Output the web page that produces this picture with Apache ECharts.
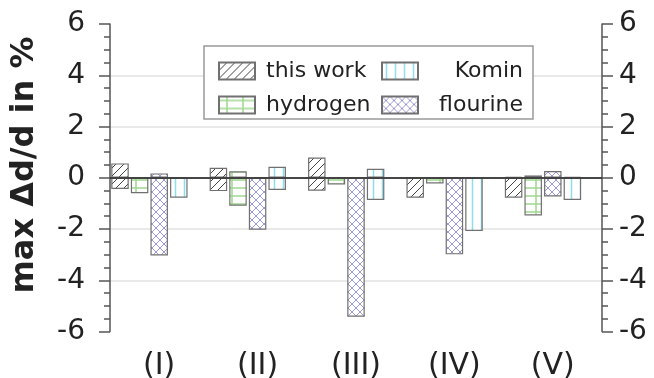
<!DOCTYPE html>
<html>
<head>
<meta charset="utf-8">
<script src="https://cdn.jsdelivr.net/npm/echarts@6/dist/echarts.min.js"></script>
<style>
  html, body { margin: 0; padding: 0; background: #fff; }
  #chart { width: 654px; height: 378px; }
</style>
</head>
<body>
<div id="chart"></div>
<script>
// categories and values (max positive / max negative deviation, %)
var categories = ['(I)', '(II)', '(III)', '(IV)', '(V)'];
var thisWorkPos = [0.56, 0.39, 0.79, 0, 0.04];
var thisWorkNeg = [-0.44, -0.52, -0.51, -0.78, -0.78];
var hydrogenPos = [0, 0.25, 0, 0, 0.09];
var hydrogenNeg = [-0.6, -1.09, -0.26, -0.22, -1.47];
var flourinePos = [0.17, 0, 0, 0, 0.26];
var flourineNeg = [-3.03, -2.03, -5.42, -2.99, -0.73];
var kominPos = [0, 0.43, 0.35, 0, 0.04];
var kominNeg = [-0.78, -0.48, -0.87, -2.08, -0.87];
var emptySlot = [null, null, null, null, null];

var FONT = 'DejaVu Sans';
var NONE = 'rgba(0,0,0,0)';
var GRID = '#e2e2e2';

// hatch patterns
function makePattern(w, h, draw) {
    var c = document.createElement('canvas');
    c.width = w;
    c.height = h;
    var ctx = c.getContext('2d');
    ctx.fillStyle = '#fff';
    ctx.fillRect(0, 0, w, h);
    draw(ctx, w, h);
    return { image: c, repeat: 'repeat' };
}

var diagPattern = makePattern(8, 8, function (ctx, w, h) {
    ctx.strokeStyle = '#444';
    ctx.lineWidth = 1;
    ctx.beginPath();
    ctx.moveTo(-1, h + 1); ctx.lineTo(w + 1, -1);
    ctx.moveTo(-1, 1); ctx.lineTo(1, -1);
    ctx.moveTo(w - 1, h + 1); ctx.lineTo(w + 1, h - 1);
    ctx.stroke();
});
var gridPattern = makePattern(16, 8, function (ctx, w, h) {
    ctx.strokeStyle = '#9fd88f';
    ctx.lineWidth = 1.5;
    ctx.beginPath();
    ctx.moveTo(8, 0); ctx.lineTo(8, h);
    ctx.moveTo(0, 4); ctx.lineTo(w, 4);
    ctx.stroke();
});
var crossPattern = makePattern(8, 8, function (ctx, w, h) {
    ctx.strokeStyle = '#9a9ad8';
    ctx.lineWidth = 1;
    ctx.beginPath();
    ctx.moveTo(0, 0); ctx.lineTo(w, h);
    ctx.moveTo(0, h); ctx.lineTo(w, 0);
    ctx.stroke();
});
var vertPattern = makePattern(9, 8, function (ctx, w, h) {
    ctx.strokeStyle = '#8fdcec';
    ctx.lineWidth = 1.5;
    ctx.beginPath();
    ctx.moveTo(4.5, 0); ctx.lineTo(4.5, h);
    ctx.stroke();
});

function barSeries(name, stack, data, fill) {
    return {
        name: name,
        type: 'bar',
        stack: stack,
        data: data,
        barWidth: 17.5,
        barGap: '12%',
        itemStyle: { color: fill, borderColor: '#707070', borderWidth: 1.2 },
        emphasis: { disabled: true }
    };
}

var yAxisBase = {
    type: 'value',
    min: -6,
    max: 6,
    interval: 2,
    axisLine: { show: true, lineStyle: { color: '#555', width: 1.5 } },
    axisTick: { show: true, length: 11, lineStyle: { color: '#555', width: 1.5 } },
    minorTick: { show: true, splitNumber: 4, length: 6, lineStyle: { color: '#555', width: 1.5 } },
    axisLabel: { fontFamily: FONT, fontSize: 28, color: '#222' }
};

var chart = echarts.init(document.getElementById('chart'));
chart.setOption({
    animation: false,
    grid: { left: 110, right: 52, top: 24, bottom: 46.5, outerBoundsMode: 'none', containLabel: false },
    xAxis: {
        type: 'category',
        data: categories,
        axisLine: { lineStyle: { color: '#555', width: 1.5 } },
        axisTick: { length: 12, lineStyle: { color: '#555', width: 1.5 } },
        axisLabel: { fontFamily: FONT, fontSize: 30, color: '#222', margin: 20 }
    },
    yAxis: [
        Object.assign({}, yAxisBase, {
            position: 'left',
            axisLabel: Object.assign({}, yAxisBase.axisLabel, { margin: 25 }),
            splitLine: {
                show: true,
                // lines at -6..6: hide the ends and the zero line
                lineStyle: { color: [NONE, GRID, GRID, NONE, GRID, GRID, NONE], width: 1.5 }
            }
        }),
        Object.assign({}, yAxisBase, {
            position: 'right',
            axisLabel: Object.assign({}, yAxisBase.axisLabel, { margin: 17 }),
            splitLine: { show: false }
        })
    ],
    legend: [
        {
            data: ['this work', 'hydrogen'],
            orient: 'vertical',
            left: 218,
            top: 60,
            padding: 0,
            itemGap: 12,
            itemWidth: 36,
            itemHeight: 17,
            icon: 'rect',
            selectedMode: false,
            textStyle: { fontFamily: FONT, fontSize: 22, color: '#222', padding: [0, 0, 0, 6] }
        },
        {
            data: ['Komin', 'flourine'],
            orient: 'vertical',
            left: 381,
            top: 60,
            padding: 0,
            itemGap: 12,
            itemWidth: 36,
            itemHeight: 17,
            icon: 'rect',
            selectedMode: false,
            formatter: function (name) { return '{r|' + name + '}'; },
            textStyle: {
                fontFamily: FONT, fontSize: 22, color: '#222',
                rich: { r: { width: 100, align: 'right', fontFamily: FONT, fontSize: 22, color: '#222' } }
            }
        }
    ],
    graphic: [
        {
            type: 'rect',
            z: 3,
            shape: { x: 204, y: 46, width: 329, height: 73 },
            style: { fill: '#fff', stroke: '#999', lineWidth: 1.5 }
        },
        {
            type: 'text',
            z: 3,
            x: 25,
            y: 165,
            rotation: Math.PI / 2,
            style: {
                text: 'max Δd/d in %',
                fontFamily: FONT,
                fontWeight: 'bold',
                fontSize: 32,
                fill: '#222',
                align: 'center',
                verticalAlign: 'middle'
            }
        }
    ],
    series: [
        barSeries('this work', 'a', thisWorkPos, diagPattern),
        barSeries('this work', 'a', thisWorkNeg, diagPattern),
        barSeries('hydrogen', 'b', hydrogenPos, gridPattern),
        barSeries('hydrogen', 'b', hydrogenNeg, gridPattern),
        barSeries('flourine', 'c', flourinePos, crossPattern),
        barSeries('flourine', 'c', flourineNeg, crossPattern),
        barSeries('Komin', 'd', kominPos, vertPattern),
        barSeries('Komin', 'd', kominNeg, vertPattern),
        {
            name: 'slot',
            type: 'bar',
            stack: 'e',
            data: emptySlot,
            barWidth: 17.5,
            barGap: '12%',
            z: 5,
            markLine: {
                silent: true,
                symbol: 'none',
                label: { show: false },
                lineStyle: { color: '#333', width: 1.5, type: 'solid' },
                data: [{ yAxis: 0 }]
            }
        }
    ]
});
</script>
</body>
</html>
